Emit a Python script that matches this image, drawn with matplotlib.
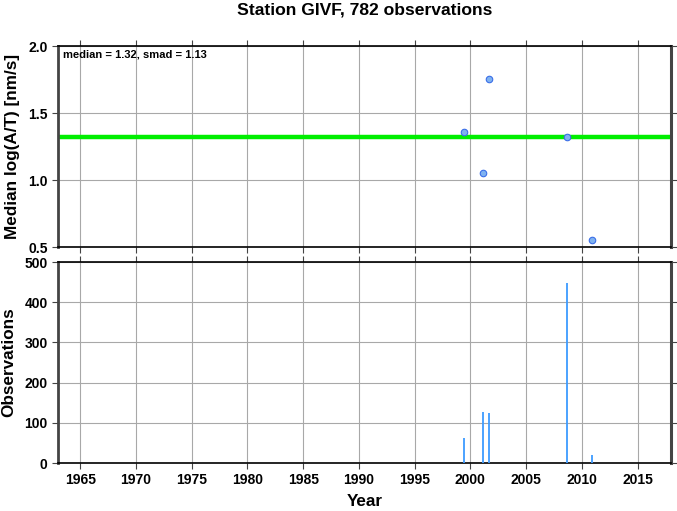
import matplotlib
matplotlib.use("Agg")
import matplotlib.pyplot as plt
import numpy as np

# -----------------------------
# Data
# -----------------------------

years = [1999.47, 2001.1, 2001.7, 2008.65, 2010.87]
median_log = [1.36, 1.055, 1.755, 1.32, 0.555]
observations = [63, 126, 125, 449, 19]

station = "GIVF"
median_all = 1.32
smad_all = 1.13

plt.rcParams["font.family"] = ["Liberation Sans", "DejaVu Sans"]
plt.rcParams["font.weight"] = "bold"

fig = plt.figure(figsize=(6.77, 5.11), dpi=100)
W, H = 677, 511
ax1 = fig.add_axes([58 / W, 1 - 247 / H, 613 / W, 201 / H])
ax2 = fig.add_axes([58 / W, 1 - 463 / H, 613 / W, 201 / H])

for ax in (ax1, ax2):
    ax.set_xlim(1963, 2018)
    ax.set_xticks(np.arange(1965, 2016, 5))
    ax.grid(True, color="#a8a8a8", linewidth=0.8)
    ax.set_axisbelow(True)
    ax.tick_params(direction="out", length=4, width=0.8, top=True, right=True,
                   labelsize=10, color="#444444")
    for side in ("left", "bottom", "top"):
        ax.spines[side].set_linewidth(1.2)
    ax.spines["right"].set_linewidth(2.2)
    ax.spines["right"].set_color("#444444")
    ax.spines["left"].set_linewidth(2.0)
    ax.spines["left"].set_color("#444444")

# top panel
ax1.set_ylim(0.5, 2.0)
ax1.set_yticks([0.5, 1.0, 1.5, 2.0])
ax1.set_yticklabels(["0.5", "1.0", "1.5", "2.0"])
ax1.tick_params(labelbottom=False)
ax1.axhline(median_all, color="#00ee00", linewidth=3.2, zorder=2)
ax1.scatter(years, median_log, s=22, facecolor="#7fb2f0", edgecolor="#3a6ee8",
            linewidth=0.8, zorder=3)
ax1.text(0.008, 0.985, f"median = {median_all:.2f}, smad = {smad_all:.2f}",
         transform=ax1.transAxes, ha="left", va="top", fontsize=8, fontweight="bold")
ax1.set_ylabel("Median log(A/T) [nm/s]", fontsize=12.3, fontweight="bold", labelpad=6)

fig.text(0.5 * (58 + 671) / W, 1 - 10 / H,
         f"Station {station}, {sum(observations)} observations",
         ha="center", va="center", fontsize=12.6, fontweight="bold")

# bottom panel
ax2.set_ylim(0, 500)
ax2.set_yticks(np.arange(0, 501, 100))
ax2.vlines(years, 0, observations, color="#3d9bff", linewidth=1.3, zorder=3)
ax2.set_ylabel("Observations", fontsize=12.3, fontweight="bold", labelpad=6)
ax2.set_xlabel("Year", fontsize=12.3, fontweight="bold", labelpad=5)

fig.savefig("out.png", dpi=100)
